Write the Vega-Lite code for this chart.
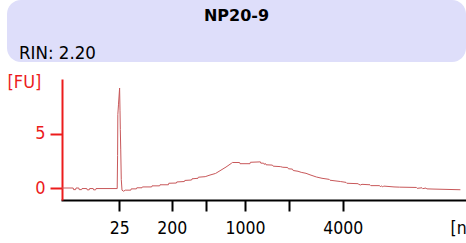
{
  "$schema": "https://vega.github.io/schema/vega-lite/v6.json",
  "padding": {"left": 7, "top": 0, "right": 0, "bottom": 0},
  "background": "white",
  "spacing": 17,
  "bounds": "flush",
  "config": {"view": {"stroke": null}, "font": "DejaVu Sans"},
  "vconcat": [
    {
      "width": 459,
      "height": 62,
      "view": {"fill": "#dedefa", "stroke": null, "cornerRadius": 14},
      "layer": [
        {
          "data": {"values": [{"label": "NP20-9"}]},
          "mark": {"type": "text", "font": "DejaVu Sans", "fontWeight": "bold", "fontSize": 16, "color": "black", "align": "center", "baseline": "alphabetic", "x": {"expr": "width/2"}, "y": 21},
          "encoding": {"text": {"field": "label"}}
        },
        {
          "data": {"values": [{"label": "RIN: 2.20"}]},
          "mark": {"type": "text", "font": "DejaVu Sans Condensed, DejaVu Sans", "fontSize": 18.5, "color": "black", "align": "left", "baseline": "alphabetic", "x": 12, "y": 59},
          "encoding": {"text": {"field": "label"}}
        }
      ]
    },
    {
      "width": 459,
      "height": 121,
      "data": {"values": [
        {"t":19.0,"fu":0.0},{"t":20.4,"fu":0.0},{"t":20.45,"fu":-0.15},{"t":20.7,"fu":-0.15},{"t":20.75,"fu":0.0},
        {"t":21.1,"fu":0.0},{"t":21.15,"fu":-0.15},{"t":21.45,"fu":-0.15},{"t":21.5,"fu":-0.05},{"t":22.1,"fu":-0.05},
        {"t":22.15,"fu":-0.17},{"t":22.4,"fu":-0.17},{"t":22.45,"fu":-0.05},{"t":22.9,"fu":-0.05},{"t":22.95,"fu":-0.17},
        {"t":23.2,"fu":-0.17},{"t":23.25,"fu":-0.05},{"t":25.9,"fu":-0.05},{"t":25.95,"fu":3.0},{"t":25.98,"fu":6.8},
        {"t":26.06,"fu":7.7},{"t":26.2,"fu":9.25},{"t":26.25,"fu":7.2},{"t":26.29,"fu":5.4},{"t":26.34,"fu":3.6},
        {"t":26.41,"fu":0.8},{"t":26.5,"fu":-0.2},{"t":26.7,"fu":-0.3},{"t":26.9,"fu":-0.2},{"t":27.6,"fu":-0.2},
        {"t":27.65,"fu":-0.08},{"t":28.3,"fu":-0.08},{"t":28.35,"fu":0.02},{"t":29.0,"fu":0.02},{"t":29.05,"fu":0.1},
        {"t":30.2,"fu":0.1},{"t":30.25,"fu":0.2},{"t":31.2,"fu":0.2},{"t":31.25,"fu":0.3},{"t":32.3,"fu":0.3},
        {"t":32.35,"fu":0.44},{"t":33.3,"fu":0.46},{"t":33.35,"fu":0.56},{"t":34.3,"fu":0.6},{"t":34.35,"fu":0.7},
        {"t":35.2,"fu":0.74},{"t":35.25,"fu":0.85},{"t":36.0,"fu":0.9},{"t":36.05,"fu":1.0},{"t":36.9,"fu":1.05},
        {"t":37.5,"fu":1.2},{"t":38.2,"fu":1.35},{"t":38.75,"fu":1.6},{"t":39.5,"fu":1.94},{"t":40.2,"fu":2.3},
        {"t":40.3,"fu":2.36},{"t":41.2,"fu":2.36},{"t":41.25,"fu":2.25},{"t":42.5,"fu":2.25},{"t":42.55,"fu":2.38},
        {"t":43.8,"fu":2.42},{"t":43.85,"fu":2.3},{"t":44.2,"fu":2.3},{"t":44.3,"fu":2.18},{"t":44.4,"fu":2.28},
        {"t":44.5,"fu":2.15},{"t":45.3,"fu":2.12},{"t":45.4,"fu":2.02},{"t":46.3,"fu":1.98},{"t":46.6,"fu":1.92},
        {"t":47.2,"fu":1.9},{"t":47.3,"fu":1.78},{"t":47.8,"fu":1.75},{"t":47.9,"fu":1.62},{"t":48.5,"fu":1.55},
        {"t":48.9,"fu":1.45},{"t":49.5,"fu":1.36},{"t":50.0,"fu":1.22},{"t":50.8,"fu":1.02},{"t":51.5,"fu":0.9},
        {"t":52.4,"fu":0.8},{"t":52.5,"fu":0.72},{"t":53.8,"fu":0.6},{"t":54.5,"fu":0.52},{"t":54.6,"fu":0.44},
        {"t":56.0,"fu":0.4},{"t":56.1,"fu":0.34},{"t":56.3,"fu":0.28},{"t":56.5,"fu":0.34},{"t":57.5,"fu":0.3},
        {"t":57.6,"fu":0.22},{"t":58.7,"fu":0.22},{"t":58.8,"fu":0.12},{"t":58.9,"fu":0.2},{"t":59.1,"fu":0.1},
        {"t":59.2,"fu":0.18},{"t":60.5,"fu":0.1},{"t":61.2,"fu":0.08},{"t":63.3,"fu":0.05},{"t":63.4,"fu":-0.03},
        {"t":64.0,"fu":0.02},{"t":64.1,"fu":-0.06},{"t":64.5,"fu":0.0},{"t":64.6,"fu":-0.08},{"t":65.5,"fu":-0.1},
        {"t":68.8,"fu":-0.16}
      ]},
      "mark": {"type": "line", "color": "#c8585a", "strokeWidth": 1, "interpolate": "linear"},
      "encoding": {
        "x": {
          "field": "t", "type": "quantitative",
          "scale": {"domain": [19, 69.5], "range": [55, 459], "nice": false, "zero": false},
          "axis": {
            "values": [26.16, 32.71, 36.96, 41.875, 47.41, 54.09],
            "labelExpr": "datum.value == 26.16 ? '25' : datum.value == 32.71 ? '200' : datum.value == 41.875 ? '1000' : datum.value == 54.09 ? '4000' : ''",
            "grid": false,
            "domainColor": "black", "domainWidth": 2, "domainCap": "square",
            "tickColor": "black", "tickWidth": 2, "tickSize": 11,
            "labelColor": "black", "labelFont": "DejaVu Sans Condensed, DejaVu Sans", "labelFontSize": 17.5, "labelPadding": 8,
            "labelFlush": false, "labelOverlap": false,
            "title": "[nt]", "titleFont": "DejaVu Sans Condensed, DejaVu Sans", "titleFontSize": 17.5, "titleFontWeight": "normal",
            "titleColor": "black", "titleAnchor": null, "titleAlign": "left", "titleBaseline": "alphabetic",
            "titleX": 443, "titleY": 33
          }
        },
        "y": {
          "field": "fu", "type": "quantitative",
          "scale": {"domain": [-1.11, 10.09], "nice": false, "zero": false},
          "axis": {
            "values": [0, 5],
            "offset": -55,
            "grid": false,
            "domainColor": "#ec1c1c", "domainWidth": 2,
            "tickColor": "#ec1c1c", "tickWidth": 2, "tickSize": 12,
            "labelColor": "#ec1c1c", "labelFont": "DejaVu Sans Condensed, DejaVu Sans", "labelFontSize": 18, "labelPadding": 5,
            "title": "[FU]", "titleFont": "DejaVu Sans Condensed, DejaVu Sans", "titleFontSize": 18, "titleFontWeight": "normal",
            "titleColor": "#ec1c1c", "titleAngle": 0, "titleAlign": "left", "titleBaseline": "alphabetic",
            "titleX": -55, "titleY": 8
          }
        }
      }
    }
  ]
}
